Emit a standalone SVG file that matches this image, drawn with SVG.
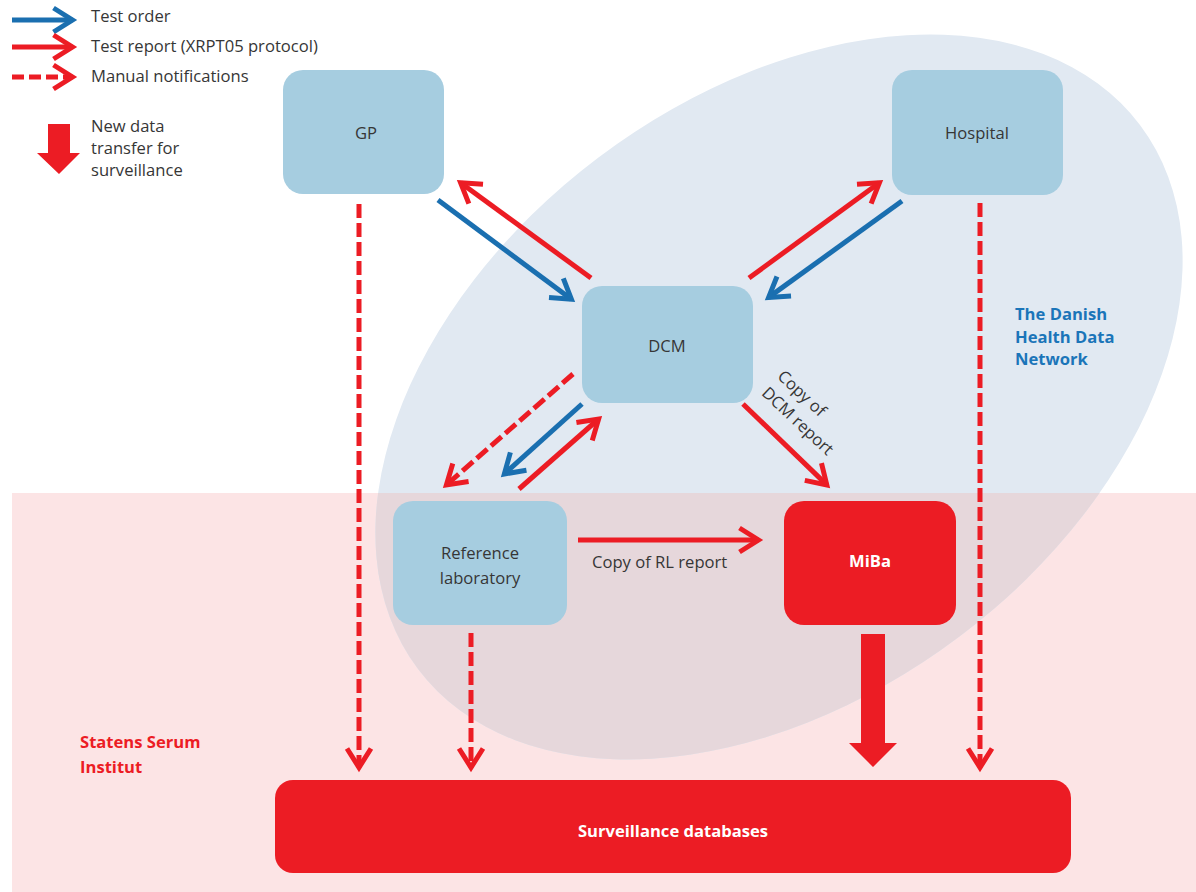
<svg xmlns="http://www.w3.org/2000/svg" width="1196" height="892" viewBox="0 0 1196 892">
<style>
text{font-family:"Open Sans","Liberation Sans",sans-serif;font-size:16.6px}
.lbl{fill:#363636}
.ctr{text-anchor:middle}
.wb{fill:#ffffff;font-weight:bold}
.node{fill:#a6cde0}
.rnode{fill:#ec1c24}
.red{stroke:#ec1c24;stroke-width:5;fill:none;marker-end:url(#ar)}
.blue{stroke:#1a6fb0;stroke-width:5;fill:none;marker-end:url(#ab)}
.dash{stroke:#ec1c24;stroke-width:5;fill:none;stroke-dasharray:14 5;marker-end:url(#ar)}
.ldash{stroke-dasharray:12 5}
</style>
<defs>
<marker id="ar" markerUnits="userSpaceOnUse" markerWidth="50" markerHeight="50" viewBox="-30 -25 50 50" refX="0" refY="0" orient="auto" overflow="visible">
<path d="M-19,-12 L0,0 L-19,12" fill="none" stroke="#ec1c24" stroke-width="5"/>
</marker>
<marker id="ab" markerUnits="userSpaceOnUse" markerWidth="50" markerHeight="50" viewBox="-30 -25 50 50" refX="0" refY="0" orient="auto" overflow="visible">
<path d="M-19,-12 L0,0 L-19,12" fill="none" stroke="#1a6fb0" stroke-width="5"/>
</marker>
<clipPath id="pinkclip"><rect x="12" y="493" width="1184" height="399"/></clipPath>
<ellipse id="net" cx="779" cy="397" rx="452" ry="300" transform="rotate(-37 779 397)"/>
</defs>

<g id="background">
<rect x="0" y="0" width="1196" height="892" fill="#ffffff"/>
<rect x="12" y="493" width="1184" height="399" fill="#fce4e5"/>
<use href="#net" fill="#e1e9f2"/>
<g clip-path="url(#pinkclip)"><use href="#net" fill="#e6d7db"/></g>
<text x="1015" y="320" fill="#1b75b9" font-weight="bold">The Danish</text>
<text x="1015" y="343" fill="#1b75b9" font-weight="bold">Health Data</text>
<text x="1015" y="365" fill="#1b75b9" font-weight="bold">Network</text>
<text x="80" y="748" fill="#ec1c24" font-weight="bold">Statens Serum</text>
<text x="80" y="773" fill="#ec1c24" font-weight="bold">Institut</text>
</g>

<g id="legend">
<line x1="12" y1="20" x2="72.5" y2="20" class="blue" stroke-width="6"/>
<text x="91" y="22" class="lbl">Test order</text>
<line x1="12" y1="47" x2="72.5" y2="47" class="red" stroke-width="6"/>
<text x="91" y="52" class="lbl">Test report (XRPT05 protocol)</text>
<line x1="12" y1="77" x2="72.5" y2="77" class="red ldash" stroke-width="6"/>
<text x="91" y="82" class="lbl">Manual notifications</text>
<polygon points="48,124 70,124 70,153 80,153 59,174 37,153 48,153" fill="#ec1c24"/>
<text x="91" y="132" class="lbl">New data</text>
<text x="91" y="154" class="lbl">transfer for</text>
<text x="91" y="176" class="lbl">surveillance</text>
</g>

<g id="connectors">
<line x1="438" y1="200" x2="571.4" y2="299.3" class="blue"/>
<line x1="591" y1="278" x2="460.6" y2="182.7" class="red"/>
<line x1="749" y1="278" x2="879.4" y2="182.7" class="red"/>
<line x1="902" y1="201" x2="768.6" y2="297.4" class="blue"/>
<line x1="573" y1="374" x2="446.4" y2="485" class="dash"/>
<line x1="582" y1="404" x2="504.3" y2="474" class="blue"/>
<line x1="519" y1="489" x2="598.6" y2="419" class="red"/>
<line x1="743" y1="404" x2="826.8" y2="484.9" class="red"/>
<line x1="578" y1="540" x2="758.5" y2="540" class="red"/>
<text x="592" y="568" class="lbl">Copy of RL report</text>
<text transform="translate(776.5 377.5) rotate(43)" class="lbl"><tspan x="0" y="0">Copy of</tspan><tspan x="0" y="23">DCM report</tspan></text>
<line x1="359" y1="204" x2="359" y2="767.5" class="dash"/>
<line x1="471" y1="633" x2="471" y2="767.5" class="dash"/>
<line x1="980" y1="203" x2="980" y2="767.5" class="dash"/>
<polygon points="861,634 885,634 885,743 897,743 873,767 849,743 861,743" fill="#ec1c24"/>
</g>

<g id="gp">
<rect x="283" y="70" width="161" height="124" rx="20" class="node"/>
<text x="366" y="139" class="lbl ctr">GP</text>
</g>
<g id="hospital">
<rect x="892" y="70" width="171" height="125" rx="20" class="node"/>
<text x="977" y="139" class="lbl ctr">Hospital</text>
</g>
<g id="dcm">
<rect x="582" y="286" width="171" height="117" rx="20" class="node"/>
<text x="667" y="352" class="lbl ctr">DCM</text>
</g>
<g id="reflab">
<rect x="393" y="501" width="174" height="124" rx="20" class="node"/>
<text x="480" y="559" class="lbl ctr">Reference</text>
<text x="480" y="584" class="lbl ctr">laboratory</text>
</g>
<g id="miba">
<rect x="784" y="501" width="172" height="124" rx="20" class="rnode"/>
<text x="870" y="567" class="wb ctr">MiBa</text>
</g>
<g id="surveillance">
<rect x="275" y="780" width="796" height="93" rx="18" class="rnode"/>
<text x="673" y="837" class="wb ctr">Surveillance databases</text>
</g>
</svg>
